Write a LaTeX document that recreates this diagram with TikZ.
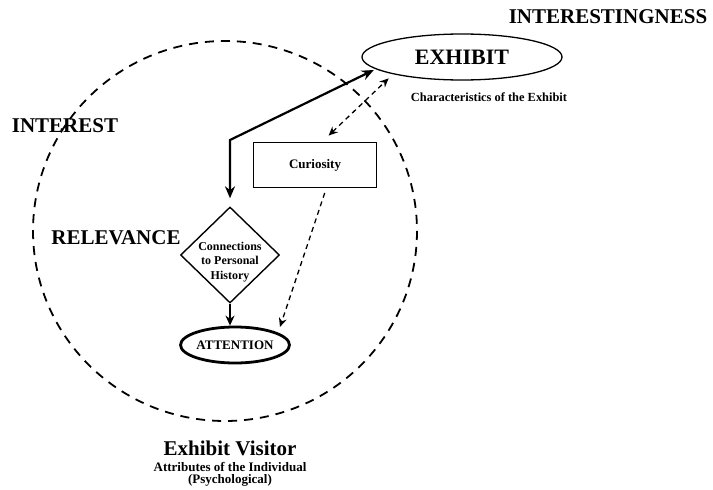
\documentclass[tikz,border=0pt]{standalone}
\usepackage{fontspec}
\setmainfont{Liberation Serif}
\usepackage{tikz}
\usetikzlibrary{shapes.geometric,arrows.meta}

\begin{document}
\begin{tikzpicture}[x=1pt, y=-1pt, >={Stealth[length=12pt,width=10pt]},
  every node/.style={font=\bfseries},
  bigtitle/.style={font=\bfseries\fontsize{21pt}{25pt}\selectfont, inner sep=0pt},
  smalltxt/.style={font=\bfseries\fontsize{13pt}{14.5pt}\selectfont, inner sep=0pt},
  visitor/.style={dash pattern=on 9pt off 7pt, line width=1.8pt},
  link/.style={dash pattern=on 5pt off 4pt, line width=1.3pt, >={Stealth[length=9pt,width=8pt]}},
  mainlink/.style={line width=2.2pt}]
  \useasboundingbox (0,0) rectangle (713,490);

  % Visitor circle
  \draw[visitor] (225,231) ellipse [x radius=192, y radius=190];

  % Exhibit side
  \node[bigtitle] (interestingness) at (608,17) {INTERESTINGNESS};
  \node[ellipse, draw, line width=1.3pt, minimum width=200pt, minimum height=46pt,
        bigtitle, font=\bfseries\fontsize{22pt}{26pt}\selectfont] (exhibit) at (462,57) {EXHIBIT};
  \node[smalltxt, font=\bfseries\fontsize{12.4pt}{14pt}\selectfont] (characteristics) at (489,97) {Characteristics of the Exhibit};

  % Labels inside the circle
  \node[bigtitle] (interest) at (65,126) {INTEREST};
  \node[bigtitle] (relevance) at (116,238) {RELEVANCE};

  % Boxes
  \node[draw, line width=1.4pt, minimum width=123pt, minimum height=45pt, smalltxt] (curiosity) at (315,165) {Curiosity};
  \node[diamond, draw, line width=1.4pt, minimum width=99pt, minimum height=96pt, inner sep=0pt] (history) at (230,255) {};
  \node[smalltxt, font=\bfseries\fontsize{12pt}{14.5pt}\selectfont, align=center] (historytext) at (230,262) {Connections\\to Personal\\History};
  \node[ellipse, draw, line width=2.8pt, minimum width=106pt, minimum height=36pt, smalltxt] (attention) at (235,345) {ATTENTION};

  % Arrows
  \coordinate (bend) at (230,140);
  \draw[mainlink, <->, shorten <=2pt, shorten >=8pt] (exhibit.188) -- (bend) -- (history.north);
  \draw[link, <->, shorten <=9pt, shorten >=6pt] (curiosity.73) -- (exhibit.194);
  \draw[link, ->, shorten <=5pt, shorten >=6pt] (curiosity.-64) -- (attention.16);
  \draw[line width=1.4pt, ->, >={Stealth[length=10pt,width=9pt]}] (history.south) -- (history.south |- attention.north);

  % Visitor labels
  \node[bigtitle] (visitorname) at (230,448) {Exhibit Visitor};
  \node[smalltxt] (attributes) at (230,467) {Attributes of the Individual};
  \node[smalltxt] (psychological) at (230,480) {(Psychological)};

\end{tikzpicture}
\end{document}
